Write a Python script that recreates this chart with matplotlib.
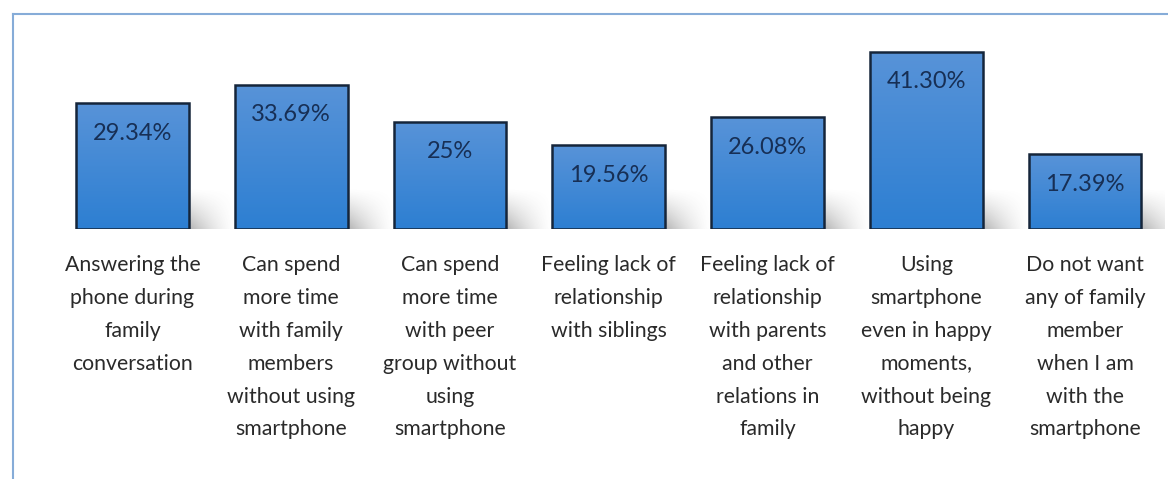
import numpy as np
import matplotlib
matplotlib.use("Agg")
import matplotlib.pyplot as plt
from matplotlib.lines import Line2D

plt.rcParams['font.family'] = ['Lato', 'DejaVu Sans']

# data
categories = [
    "Answering the\nphone during\nfamily\nconversation",
    "Can spend\nmore time\nwith family\nmembers\nwithout using\nsmartphone",
    "Can spend\nmore time\nwith peer\ngroup without\nusing\nsmartphone",
    "Feeling lack of\nrelationship\nwith siblings",
    "Feeling lack of\nrelationship\nwith parents\nand other\nrelations in\nfamily",
    "Using\nsmartphone\neven in happy\nmoments,\nwithout being\nhappy",
    "Do not want\nany of family\nmember\nwhen I am\nwith the\nsmartphone",
]
values = [29.34, 33.69, 25.0, 19.56, 26.08, 41.30, 17.39]
value_labels = ["29.34%", "33.69%", "25%", "19.56%", "26.08%", "41.30%", "17.39%"]

W, H = 1168, 479
fig = plt.figure(figsize=(W / 100, H / 100), dpi=100)
ax = fig.add_axes([53 / W, 250 / H, 1111.5 / W, (479 - 250 - 14.7) / H])

x = np.arange(len(values))
bar_w = 0.71
bars = ax.bar(x, values, width=bar_w, facecolor='none', edgecolor='#15253a',
              linewidth=1.8, zorder=3)

# vertical gradient inside each bar
grad = np.linspace(0, 1, 100).reshape(-1, 1)
top_c = np.array([0x58, 0x93, 0xd8]) / 255
bot_c = np.array([0x2d, 0x7f, 0xd2]) / 255
img = top_c * (1 - grad[..., None]) + bot_c * grad[..., None]
for b in bars:
    x0, w, h = b.get_x(), b.get_width(), b.get_height()
    im = ax.imshow(img, extent=(x0, x0 + w, 0, h), aspect='auto',
                   origin='upper', zorder=2, interpolation='bilinear')
    im.set_clip_path(b)

# soft shadow to the right of each bar
sx = np.linspace(0, 1, 60)
sy = np.linspace(0, 1, 40)
SX, SY = np.meshgrid(sx, sy)
alpha = 0.45 * (1 - SX) ** 1.5 * (1 - SY) ** 1.2
shadow = np.zeros((40, 60, 4))
shadow[..., :3] = 0.35
shadow[..., 3] = alpha
for b in bars:
    xr = b.get_x() + b.get_width()
    ax.imshow(shadow, extent=(xr, xr + 0.3, 0, 9.5), aspect='auto',
              origin='lower', zorder=1, interpolation='bilinear')

for xi, v, lab in zip(x, values, value_labels):
    ax.text(xi, v - 7.0, lab, ha='center', va='center', fontsize=17,
            color='#172f55', zorder=4)

ax.set_xlim(-0.5, len(values) - 0.5)
ax.set_ylim(0, 50)
ax.set_xticks(x)
ax.set_xticklabels(categories, fontsize=15.3, color='#2a2a2a', linespacing=1.8)
ax.tick_params(axis='x', length=0, pad=19)
ax.set_yticks([])
for s in ax.spines.values():
    s.set_visible(False)

# chart frame (left and top edges visible)
fig.add_artist(Line2D([12.5 / W, 12.5 / W], [0, 1 - 14 / H], color='#86acd8', lw=1.5))
fig.add_artist(Line2D([12.5 / W, 1], [1 - 14 / H, 1 - 14 / H], color='#86acd8', lw=1.5))

fig.savefig('out.png', dpi=100)
